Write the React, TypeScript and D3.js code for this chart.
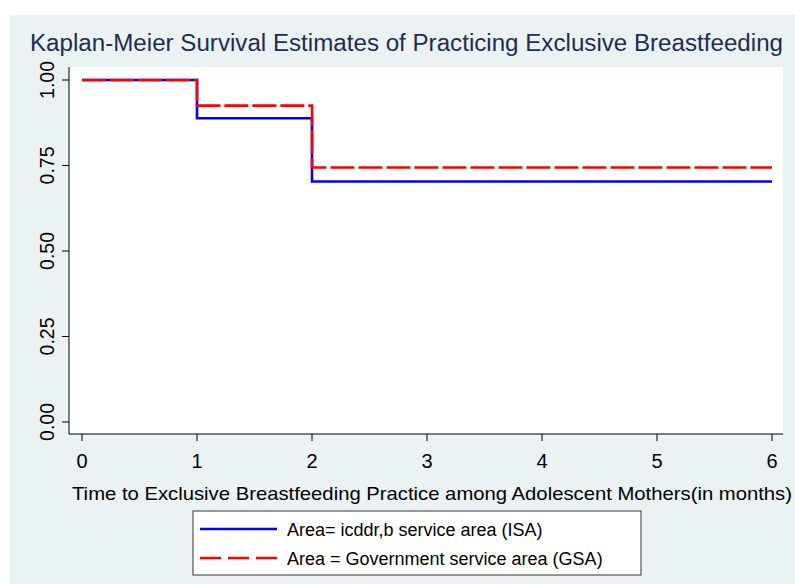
import * as d3 from "d3";
import { useEffect, useRef } from "react";

const timeTicks = [0, 1, 2, 3, 4, 5, 6];
const survivalTicks = [0, 0.25, 0.5, 0.75, 1];

// Kaplan-Meier step points (time in months, survival estimate)
const isaTimes = [0, 1, 2, 6];
const isaSurvival = [1, 0.888, 0.703, 0.703];
const gsaTimes = [0, 1, 2, 6];
const gsaSurvival = [1, 0.925, 0.744, 0.744];

const legendLabels = [
  "Area= icddr,b service area (ISA)",
  "Area = Government service area (GSA)",
];

const COLORS = {
  bg: "#eaf2f3",
  title: "#1e2d52",
  isa: "#0000ff",
  gsa: "#ff0000",
  axis: "#000000",
};

const NARROW = "Liberation Sans Narrow, Arial Narrow, Liberation Sans, Arial, sans-serif";
const SANS = "Liberation Sans, Arial, sans-serif";

const W = 795;
const H = 584;
const plot = { left: 69, right: 783, top: 67, bottom: 434 };

const App = () => {
  const svgRef = useRef<SVGSVGElement | null>(null);

  useEffect(() => {
    if (!svgRef.current) return;
    const svg = d3.select(svgRef.current);
    svg.selectAll("*").remove();

    const x = d3.scaleLinear().domain([0, 6]).range([82, 772]);
    const y = d3.scaleLinear().domain([0, 1]).range([422, 80]);

    // backgrounds
    svg.append("rect").attr("x", 10).attr("y", 15).attr("width", W - 10).attr("height", H - 15).attr("fill", COLORS.bg);
    svg
      .append("rect")
      .attr("x", plot.left)
      .attr("y", plot.top)
      .attr("width", plot.right - plot.left)
      .attr("height", plot.bottom - plot.top)
      .attr("fill", "#fff");

    // title
    svg
      .append("text")
      .attr("x", 30)
      .attr("y", 51)
      .attr("font-family", NARROW)
      .attr("font-size", 23)
      .attr("fill", COLORS.title)
      .attr("textLength", 753)
      .attr("lengthAdjust", "spacingAndGlyphs")
      .text("Kaplan-Meier Survival Estimates of Practicing Exclusive Breastfeeding");

    // axes lines
    svg.append("line").attr("x1", plot.left).attr("x2", plot.left).attr("y1", plot.top).attr("y2", plot.bottom).attr("stroke", COLORS.axis).attr("stroke-width", 1);
    svg.append("line").attr("x1", plot.left).attr("x2", plot.right).attr("y1", plot.bottom).attr("y2", plot.bottom).attr("stroke", COLORS.axis).attr("stroke-width", 1);

    // y axis ticks + rotated labels
    const yt = svg.append("g").selectAll("g").data(survivalTicks).join("g");
    yt.append("line")
      .attr("x1", plot.left - 7)
      .attr("x2", plot.left)
      .attr("y1", (d) => y(d))
      .attr("y2", (d) => y(d))
      .attr("stroke", COLORS.axis);
    yt.append("text")
      .attr("transform", (d) => `translate(54,${y(d)}) rotate(-90)`)
      .attr("text-anchor", "middle")
      .attr("font-family", SANS)
      .attr("font-size", 19.5)
      .attr("fill", "#000")
      .text((d) => d3.format(".2f")(d));

    // x axis ticks + labels
    const xt = svg.append("g").selectAll("g").data(timeTicks).join("g");
    xt.append("line")
      .attr("x1", (d) => x(d))
      .attr("x2", (d) => x(d))
      .attr("y1", plot.bottom)
      .attr("y2", plot.bottom + 7)
      .attr("stroke", COLORS.axis);
    xt.append("text")
      .attr("x", (d) => x(d))
      .attr("y", 468)
      .attr("text-anchor", "middle")
      .attr("font-family", NARROW)
      .attr("font-size", 20)
      .attr("fill", "#000")
      .text((d) => d);

    svg
      .append("text")
      .attr("x", 72)
      .attr("y", 500)
      .attr("font-family", NARROW)
      .attr("font-size", 19)
      .attr("fill", "#000")
      .attr("textLength", 720)
      .attr("lengthAdjust", "spacingAndGlyphs")
      .text("Time to Exclusive Breastfeeding Practice among Adolescent Mothers(in months)");

    // survival curves
    const line = d3
      .line<[number, number]>()
      .x((d) => x(d[0]))
      .y((d) => y(d[1]))
      .curve(d3.curveStepAfter);

    const isa = isaTimes.map((t, i) => [t, isaSurvival[i]] as [number, number]);
    const gsa = gsaTimes.map((t, i) => [t, gsaSurvival[i]] as [number, number]);

    svg.append("path").attr("d", line(isa)).attr("fill", "none").attr("stroke", COLORS.isa).attr("stroke-width", 2.6);
    svg
      .append("path")
      .attr("d", line(gsa))
      .attr("fill", "none")
      .attr("stroke", COLORS.gsa)
      .attr("stroke-width", 2.6)
      .attr("stroke-dasharray", "24,4");

    // legend
    const legend = svg.append("g").attr("transform", "translate(193,511)");
    legend.append("rect").attr("width", 448).attr("height", 64).attr("fill", "#fff").attr("stroke", "#333").attr("stroke-width", 1);
    const items = legend
      .selectAll("g")
      .data(legendLabels)
      .join("g")
      .attr("transform", (_, i) => `translate(0,${18 + i * 29})`);
    items
      .append("line")
      .attr("x1", 7)
      .attr("x2", 84)
      .attr("stroke", (_, i) => (i ? COLORS.gsa : COLORS.isa))
      .attr("stroke-width", 2.4)
      .attr("stroke-dasharray", (_, i) => (i ? "21,7" : null));
    items
      .append("text")
      .attr("x", 94)
      .attr("y", 6.5)
      .attr("font-family", SANS)
      .attr("font-size", 18)
      .attr("fill", "#000")
      .text((d) => d);
  }, []);

  return (
    <div style={{ position: "absolute", left: 0, top: 0 }}>
      <svg ref={svgRef} width={W} height={H} style={{ display: "block" }} />
    </div>
  );
};

export default App;
